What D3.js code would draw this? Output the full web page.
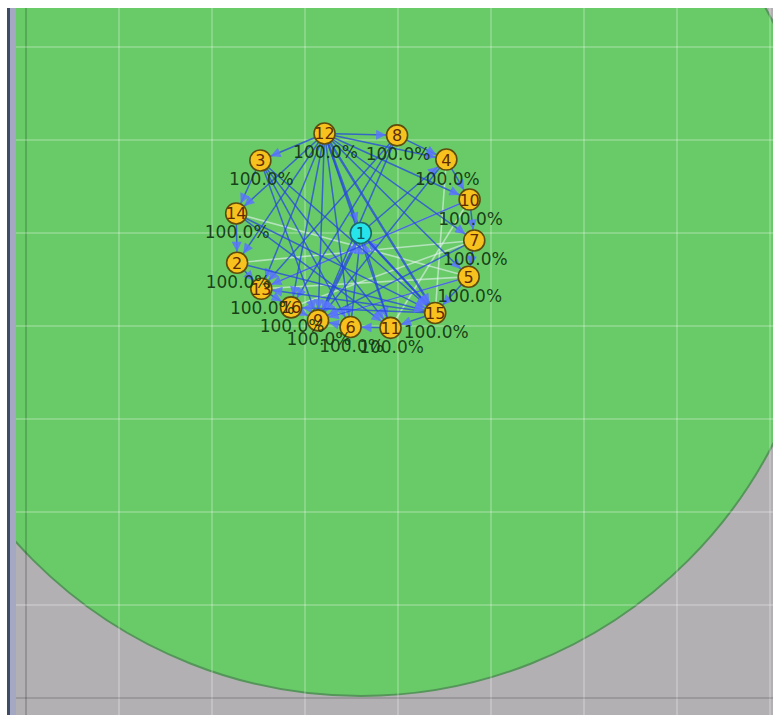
<!DOCTYPE html>
<html><head><meta charset="utf-8">
<script src="https://cdn.jsdelivr.net/npm/d3@7"></script>
<style>html,body{margin:0;padding:0;background:#fff;overflow:hidden} svg{display:block}</style>
</head><body>
<svg id="c" width="773" height="715"></svg>
<script>
// ---- data (positions in metres of the simulated area) ----
const nodeIds    = [1, 2, 3, 4, 5, 6, 7, 8, 9, 10, 11, 12, 13, 14, 15, 16];
const nodeX      = [36.0, 22.7, 25.2, 45.2, 47.6, 34.9, 48.2, 39.9, 31.4, 47.7, 39.2, 32.1, 25.3, 22.6, 44.0, 28.5];
const nodeY      = [20.0, 23.2, 12.2, 12.1, 24.7, 30.1, 20.8, 9.5, 29.4, 16.4, 30.2, 9.3, 26.0, 17.9, 28.6, 28.0];
const nodeLabels = ["", "100.0%", "100.0%", "100.0%", "100.0%", "100.0%", "100.0%", "100.0%", "100.0%", "100.0%", "100.0%", "100.0%", "100.0%", "100.0%", "100.0%", "100.0%"];
const selectedNode = 1;
const txRange = 50;

// radio transmissions (sender -> receiver) and how many were seen
const linkFrom  = [12, 8, 4, 10, 7, 5, 15, 11, 6, 12, 3, 14, 2, 13, 16,
                   12, 12, 12, 12, 12, 12, 12, 12, 12, 12, 12, 12, 12,
                   9, 15, 11, 6, 1,
                   14, 7, 3, 3, 3, 8, 8, 4, 10, 15, 15, 5, 2, 8, 3, 14, 1];
const linkTo    = [8, 4, 10, 7, 5, 15, 11, 6, 9, 3, 14, 2, 13, 16, 9,
                   1, 14, 2, 13, 16, 9, 6, 11, 15, 5, 7, 10, 4,
                   1, 1, 1, 1, 4,
                   15, 9, 15, 11, 6, 13, 16, 9, 13, 16, 13, 9, 15, 9, 9, 11, 15];
const linkCount = [1, 1, 1, 1, 1, 1, 1, 1, 1, 1, 1, 1, 1, 1, 1,
                   2, 1, 1, 1, 1, 1, 1, 1, 2, 1, 1, 1, 1,
                   3, 1, 1, 1, 1,
                   1, 1, 1, 1, 1, 1, 1, 1, 1, 1, 1, 1, 1, 1, 1, 1, 2];
// older (faded) transmissions
const fadedFrom = [2, 13, 16, 13, 9, 4, 10, 14];
const fadedTo   = [7, 5, 7, 10, 5, 15, 11, 5];

const gridX = [0, 10, 20, 30, 40, 50, 60, 70, 80];
const gridY = [0, 10, 20, 30, 40, 50, 60, 70];

// ---- drawing ----
const W = 773, H = 715;
const svg = d3.select("#c");
const x = d3.scaleLinear().domain([0, 80]).range([26, 770]);
const y = d3.scaleLinear().domain([0, 70]).range([47, 698]);
const widthScale = d3.scaleLinear().domain([1, 3]).range([1.5, 3.2]);

const nodes = nodeIds.map((id, i) => ({id, x: nodeX[i], y: nodeY[i], label: nodeLabels[i]}));
const byId = new Map(nodes.map(n => [n.id, n]));
const links = linkFrom.map((f, i) => ({s: byId.get(f), t: byId.get(linkTo[i]), c: linkCount[i]}));
const faded = fadedFrom.map((f, i) => ({s: byId.get(f), t: byId.get(fadedTo[i])}));

const panel = {x0: 16, y0: 8, x1: W, y1: H};
const defs = svg.append("defs");
defs.append("clipPath").attr("id", "pc").append("rect")
  .attr("x", panel.x0).attr("y", panel.y0).attr("width", panel.x1 - panel.x0).attr("height", panel.y1 - panel.y0);
defs.append("marker").attr("id", "arr").attr("viewBox", "0 0 10 10")
  .attr("refX", 10).attr("refY", 5).attr("markerWidth", 11).attr("markerHeight", 10)
  .attr("markerUnits", "userSpaceOnUse").attr("orient", "auto")
  .append("path").attr("d", "M0,0 L10,5 L0,10 Z").attr("fill", "#5a74ff").attr("fill-opacity", 0.85);

// window border on the left
svg.append("rect").attr("x", 7).attr("y", panel.y0).attr("width", 3).attr("height", H - panel.y0).attr("fill", "#3e4c66");
svg.append("rect").attr("x", 10).attr("y", panel.y0).attr("width", 6).attr("height", H - panel.y0).attr("fill", "#a4a8c2");

const g = svg.append("g").attr("clip-path", "url(#pc)");
g.append("rect").attr("x", panel.x0).attr("y", panel.y0).attr("width", panel.x1 - panel.x0).attr("height", panel.y1 - panel.y0).attr("fill", "#b2b0b2");

const sel = byId.get(selectedNode);
g.append("circle").attr("cx", x(sel.x)).attr("cy", y(sel.y)).attr("r", x(txRange) - x(0) - 2)
  .attr("fill", "#68cb68").attr("stroke", "#55955a").attr("stroke-width", 2);

// grid
g.selectAll(".gx").data(gridX).join("line")
  .attr("x1", d => x(d)).attr("x2", d => x(d)).attr("y1", panel.y0).attr("y2", panel.y1)
  .attr("stroke", d => d === 0 ? "rgba(0,0,0,0.22)" : "rgba(255,255,255,0.3)").attr("stroke-width", 1.5);
g.selectAll(".gy").data(gridY).join("line")
  .attr("y1", d => y(d)).attr("y2", d => y(d)).attr("x1", panel.x0).attr("x2", panel.x1)
  .attr("stroke", d => d === 70 ? "rgba(0,0,0,0.18)" : "rgba(255,255,255,0.3)").attr("stroke-width", 1.5);

const R = 11;
function seg(d, shrink) {
  const x1 = x(d.s.x), y1 = y(d.s.y), x2 = x(d.t.x), y2 = y(d.t.y);
  const L = Math.hypot(x2 - x1, y2 - y1);
  const k = (L - shrink) / L;
  return {x1, y1, x2: x1 + (x2 - x1) * k, y2: y1 + (y2 - y1) * k};
}

// faded transmissions
g.selectAll(".fl").data(faded).join("line")
  .each(function(d) { const s = seg(d, R); d3.select(this).attr("x1", s.x1).attr("y1", s.y1).attr("x2", s.x2).attr("y2", s.y2); })
  .attr("stroke", "rgba(240,245,255,0.55)").attr("stroke-width", 1.6);

// transmissions
g.selectAll(".ln").data(links).join("line")
  .each(function(d) { const s = seg(d, R); d3.select(this).attr("x1", s.x1).attr("y1", s.y1).attr("x2", s.x2).attr("y2", s.y2); })
  .attr("stroke", "#2446e2").attr("stroke-opacity", 0.75).attr("stroke-width", d => widthScale(d.c))
  .attr("marker-end", "url(#arr)");

// nodes
const ng = g.selectAll(".nd").data(nodes).join("g").attr("transform", d => `translate(${x(d.x)},${y(d.y)})`);
ng.append("circle").attr("r", 10.5)
  .attr("fill", d => d.id === selectedNode ? "#26e4ea" : "#f8c21e")
  .attr("stroke", d => d.id === selectedNode ? "#1b6a6e" : "#5e4c0c").attr("stroke-width", 1.6);
ng.append("text").text(d => d.id).attr("text-anchor", "middle").attr("y", 6)
  .attr("font-family", "DejaVu Sans").attr("font-size", 16)
  .attr("fill", d => d.id === selectedNode ? "#0e5a60" : "#5e2c04");

// percentage labels
g.selectAll(".lb").data(nodes.filter(n => n.label)).join("text")
  .attr("x", d => x(d.x) + 1).attr("y", d => y(d.y) + 25).attr("text-anchor", "middle")
  .attr("font-family", "DejaVu Sans").attr("font-size", 17).attr("fill", "#10340f").attr("fill-opacity", 0.92)
  .text(d => d.label);
</script>
</body></html>
